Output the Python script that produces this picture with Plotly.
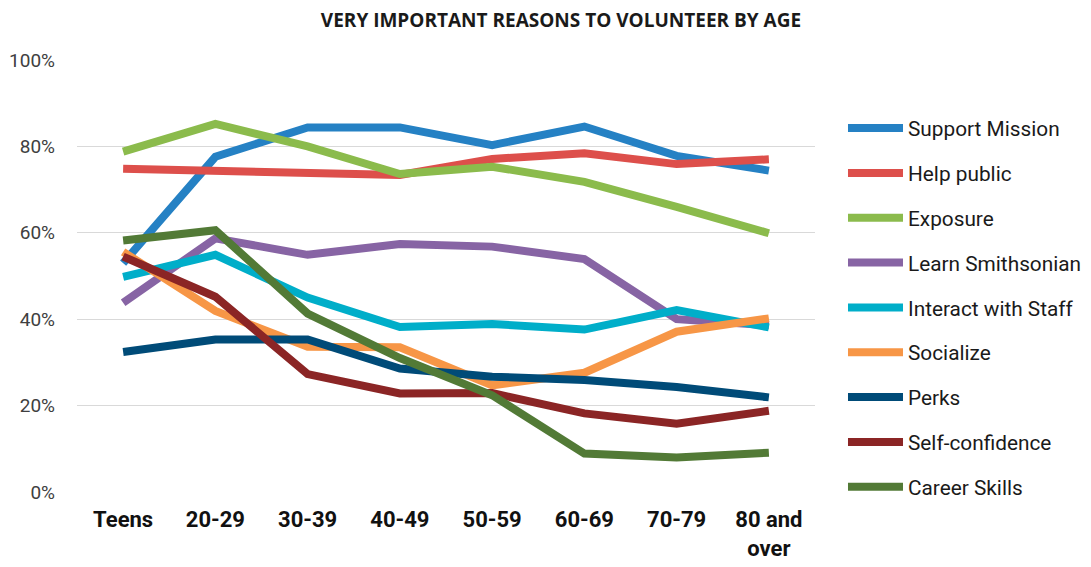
import plotly.graph_objects as go

categories = ["Teens", "20-29", "30-39", "40-49", "50-59", "60-69", "70-79", "80 and<br>over"]

support_mission = [53, 77.6, 84.4, 84.4, 80.3, 84.6, 77.8, 74.4]
help_public = [74.8, 74.4, 73.9, 73.4, 77.1, 78.4, 75.9, 77.0]
exposure = [78.8, 85.2, 80.0, 73.6, 75.3, 71.8, 66.0, 59.9]
learn_smithsonian = [43.8, 58.7, 54.9, 57.4, 56.8, 53.9, 40.0, 38.6]
interact_staff = [49.8, 54.9, 45.0, 38.2, 38.9, 37.6, 42.1, 38.1]
socialize = [55.6, 41.9, 33.6, 33.5, 24.7, 27.6, 37.1, 40.2]
perks = [32.4, 35.3, 35.3, 28.6, 26.7, 25.9, 24.3, 21.9]
self_confidence = [54.5, 45.2, 27.3, 22.8, 22.9, 18.2, 15.8, 18.8]
career_skills = [58.2, 60.6, 41.3, 31.0, 22.4, 8.9, 8.0, 9.1]

series = [
    ("Support Mission", support_mission, "#2581C4"),
    ("Help public", help_public, "#DD4F4B"),
    ("Exposure", exposure, "#8BBB4C"),
    ("Learn Smithsonian", learn_smithsonian, "#8764A4"),
    ("Interact with Staff", interact_staff, "#00AEC9"),
    ("Socialize", socialize, "#F79646"),
    ("Perks", perks, "#004B78"),
    ("Self-confidence", self_confidence, "#8B2525"),
    ("Career Skills", career_skills, "#527A36"),
]

y_ticks = [0, 20, 40, 60, 80, 100]

NARROW = "Roboto, Liberation Sans, sans-serif"

fig = go.Figure()
for i, (name, vals, color) in enumerate(series):
    fig.add_trace(go.Scatter(
        x=categories, y=vals, name=name, mode="lines",
        line=dict(color=color, width=8),
        legendgroup=f"g{i}",
    ))

fig.update_layout(
    width=1083, height=559,
    paper_bgcolor="white", plot_bgcolor="white",
    margin=dict(l=69, r=276, t=52, b=75),
    title=dict(
        text="<b>VERY IMPORTANT REASONS TO VOLUNTEER BY AGE</b>",
        x=0.5106, xref="container", xanchor="center",
        y=0.9785, yref="container", yanchor="middle",
        font=dict(family="Open Sans", size=19, color="#1a1a1a"),
    ),
    xaxis=dict(
        type="category", range=[-0.5, 7.5], showgrid=False, zeroline=False, showline=False,
        ticks="", ticklabelstandoff=12, automargin=False,
        tickfont=dict(family=NARROW, size=22, color="#111111", weight="bold"),
    ),
    yaxis=dict(
        range=[0, 100], tickvals=y_ticks, ticktext=[f"{v}%" for v in y_ticks],
        showgrid=True, gridcolor="#d9d9d9", gridwidth=1.3, zeroline=False,
        showline=False, ticks="", ticklabelstandoff=21, automargin=False,
        tickfont=dict(family=NARROW, size=19, color="#404040"),
    ),
    legend=dict(
        x=0.771, xref="container", xanchor="left",
        y=0.821, yref="container", yanchor="top",
        traceorder="grouped", tracegroupgap=14.8,
        font=dict(family=NARROW, size=20.8, color="#1a1a1a"),
        itemwidth=55, bgcolor="rgba(0,0,0,0)", maxheight=540,
    ),
    showlegend=True,
)

fig.write_html("out.html")
